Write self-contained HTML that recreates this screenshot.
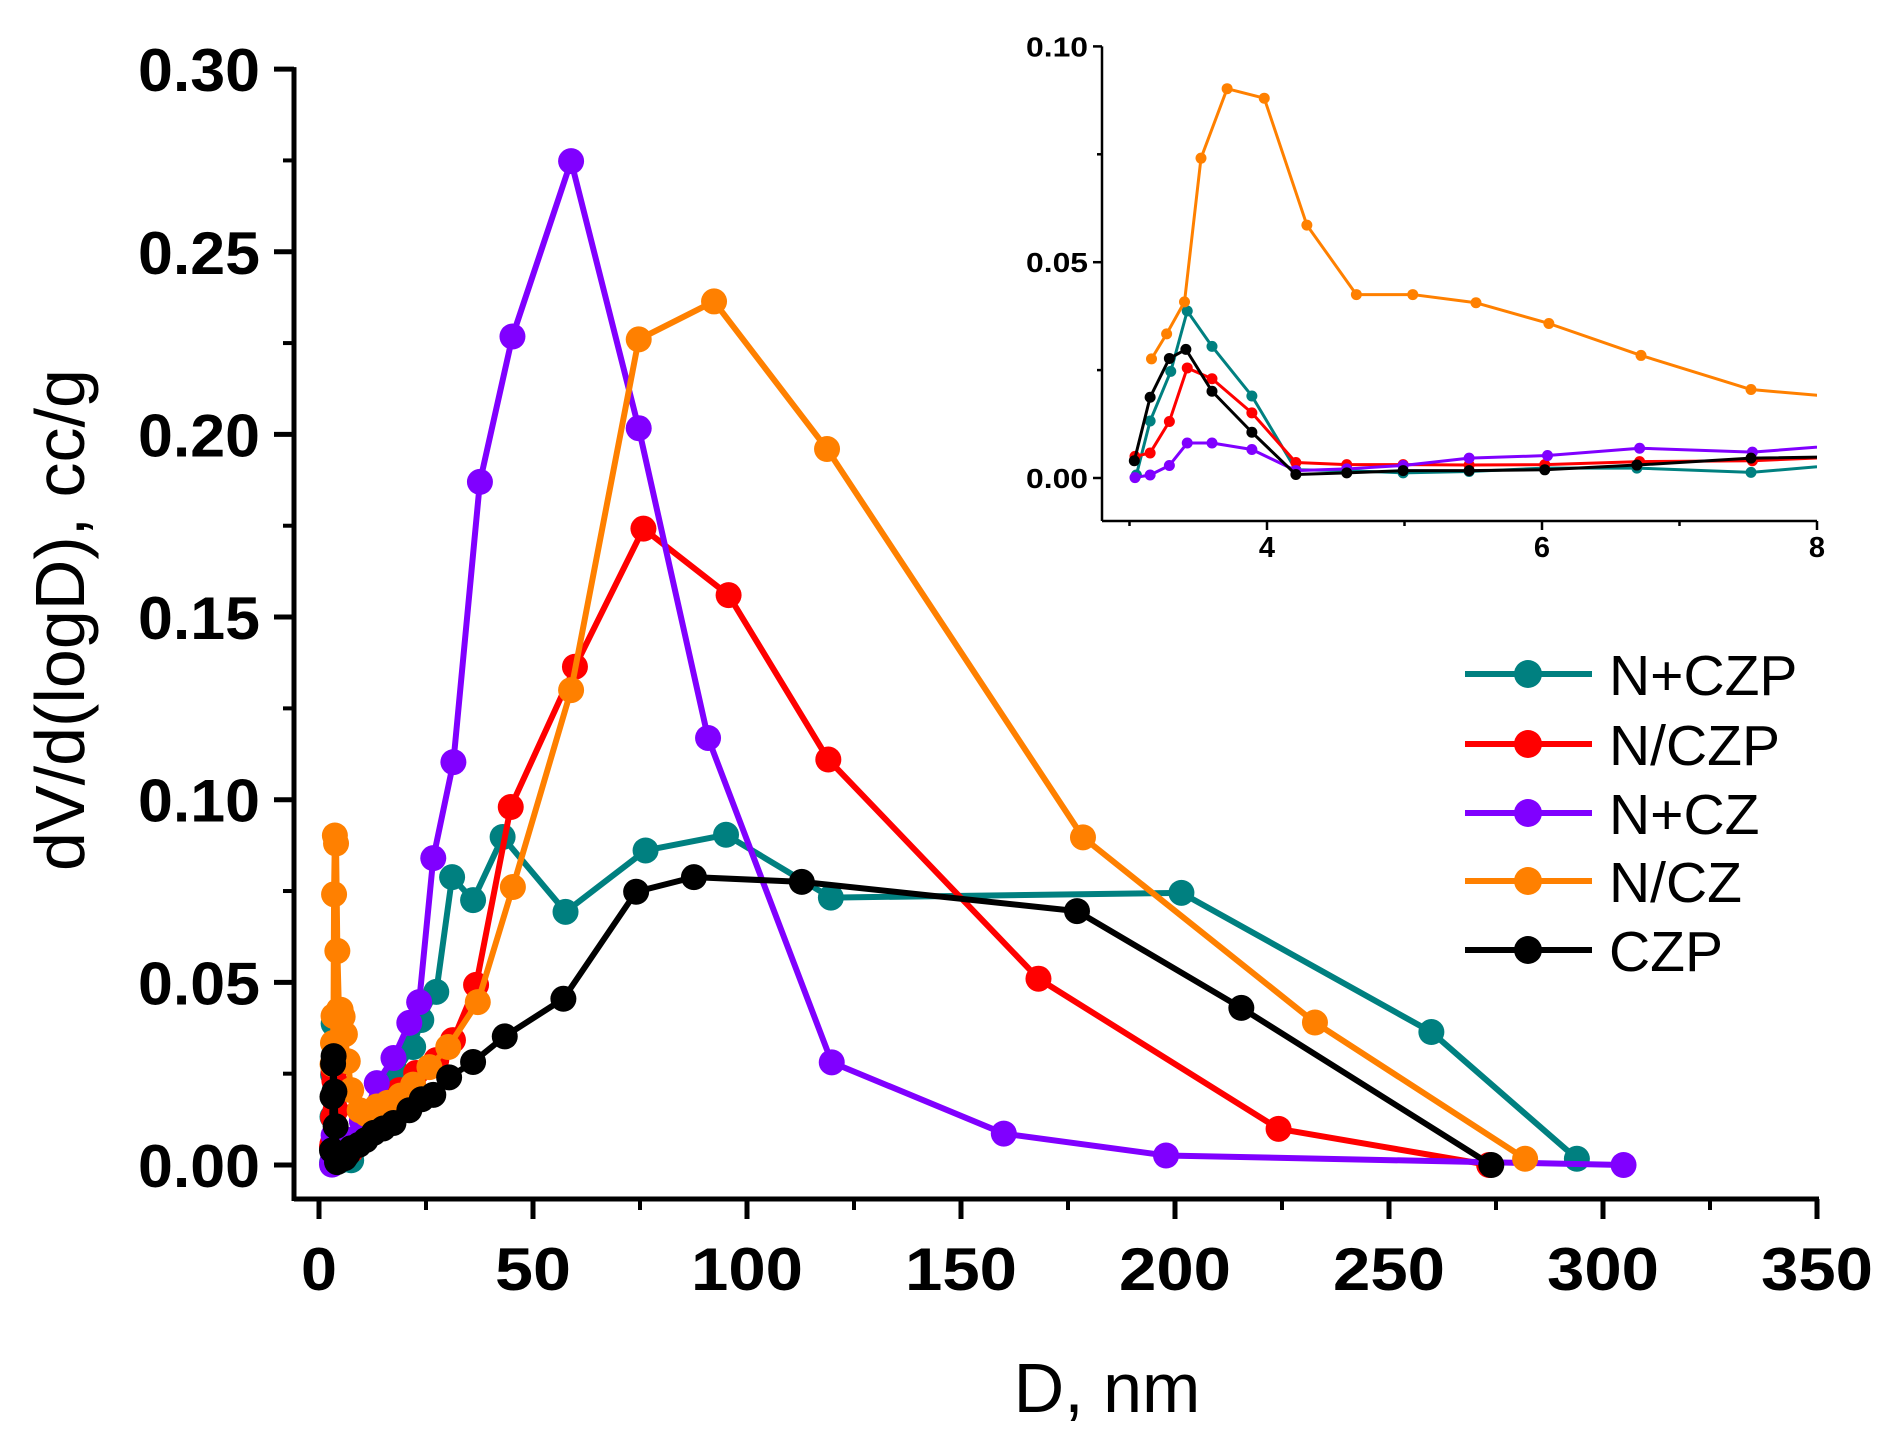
<!DOCTYPE html>
<html><head><meta charset="utf-8"><style>
html,body{margin:0;padding:0;background:#fff}
svg{display:block}
text{font-family:"Liberation Sans",sans-serif}
</style></head><body>
<svg id="chart" width="1887" height="1435" viewBox="0 0 1887 1435" xmlns="http://www.w3.org/2000/svg">
<g id="main"></g>
<g id="inset"></g>
<g id="legend"></g>
<text transform="translate(84,620) rotate(-90)" text-anchor="middle" font-size="70">dV/d(logD), cc/g</text>
<text x="1107" y="1412" text-anchor="middle" font-size="70">D, nm</text>
</svg>
<script>
const seriesNames = ["N+CZP","N/CZP","N+CZ","N/CZ","CZP"];
const seriesColors = ["#008080","#ff0000","#8000ff","#ff8000","#000000"];
const tealD = [3.05,3.15,3.30,3.42,3.60,3.89,4.21,4.58,4.99,5.47,6.02,6.69,7.52,10,13,15.5,18.1,22,23.9,27.4,31.1,36,42.9,57.6,76.3,95.1,119.6,201.5,259.9,293.9];
const tealV = [0.0007,0.0132,0.0247,0.0387,0.0305,0.019,0.0019,0.0017,0.0012,0.0015,0.0023,0.0023,0.0013,0.008,0.014,0.02,0.0252,0.0323,0.0397,0.0474,0.0788,0.0725,0.0898,0.0693,0.0861,0.0904,0.0732,0.0745,0.0364,0.0017];
const redD = [3.04,3.15,3.29,3.42,3.60,3.89,4.21,4.58,4.99,5.47,6.02,6.71,7.53,9,11,13,15.8,18.8,22.7,27.4,31.3,36.7,44.8,59.8,75.8,95.7,119,168.1,224.2,273.4];
const redV = [0.005,0.0058,0.0131,0.0255,0.023,0.0151,0.0036,0.0031,0.0031,0.003,0.0031,0.0038,0.004,0.006,0.009,0.013,0.0178,0.0205,0.0252,0.0287,0.0342,0.0493,0.098,0.1364,0.1742,0.156,0.111,0.051,0.0099,0];
const purpleD = [3.04,3.15,3.29,3.42,3.60,3.89,4.21,4.58,4.99,5.47,6.04,6.71,7.53,10,13.5,17.4,21.1,23.4,26.7,31.4,37.6,45.2,58.9,74.7,90.9,119.8,160,197.9,304.8];
const purpleV = [0.0001,0.0007,0.0029,0.0081,0.0081,0.0066,0.0017,0.0021,0.0029,0.0046,0.0052,0.0069,0.006,0.012,0.0224,0.0293,0.0389,0.0446,0.084,0.1103,0.187,0.2268,0.2748,0.2017,0.1169,0.0281,0.0086,0.0026,0];
const orangeD = [3.16,3.27,3.40,3.52,3.71,3.98,4.29,4.65,5.06,5.52,6.05,6.72,7.52,9.5,11,13.5,16,19,22,25.8,30.2,37.1,45.3,58.9,74.7,92.3,118.7,178.5,232.7,281.8];
const orangeV = [0.0276,0.0334,0.0408,0.0741,0.0902,0.088,0.0586,0.0425,0.0425,0.0406,0.0358,0.0284,0.0205,0.015,0.014,0.016,0.017,0.019,0.022,0.0268,0.0323,0.0446,0.0761,0.130,0.226,0.2364,0.196,0.0897,0.039,0.0017];
const blackD = [3.035,3.15,3.29,3.41,3.60,3.89,4.21,4.58,4.99,5.47,6.02,6.69,7.52,9.3,10.9,12.8,15,17.4,21.1,24,26.7,30.4,36,43.4,57.1,74.1,87.6,112.8,177.1,215.5,273.9];
const blackV = [0.004,0.0187,0.0277,0.0298,0.0201,0.0106,0.0008,0.0012,0.0017,0.0017,0.0019,0.003,0.0046,0.0055,0.0068,0.0088,0.01,0.0115,0.015,0.018,0.0192,0.024,0.0282,0.0352,0.0455,0.0748,0.0788,0.0775,0.0695,0.043,0];
const xTicks = [0,50,100,150,200,250,300,350];
const yTicks = [0,0.05,0.10,0.15,0.20,0.25,0.30];
const yTickLabels = ["0.00","0.05","0.10","0.15","0.20","0.25","0.30"];
const insetXTicks = [4,6,8];
const insetYTicks = [0,0.05,0.10];
const insetYTickLabels = ["0.00","0.05","0.10"];

const NS="http://www.w3.org/2000/svg";
function mk(tag,parent,attrs){const e=document.createElementNS(NS,tag);for(const k in attrs)e.setAttribute(k,attrs[k]);parent.appendChild(e);return e;}
const allD=[tealD,redD,purpleD,orangeD,blackD];
const allV=[tealV,redV,purpleV,orangeV,blackV];

const mx=d=>319+d*4.28;
const my=v=>1165-v*3653;
const main=document.getElementById('main');
const axisLeft=294, axisBottom=1199;
let l=mk('line',main,{x1:axisLeft,y1:axisBottom,x2:1819,y2:axisBottom,stroke:'#000','stroke-width':5});


l=mk('line',main,{x1:axisLeft,y1:axisBottom+2,x2:axisLeft,y2:my(0.30)-2,stroke:'#000','stroke-width':5});


for(let i=0;i<xTicks.length;i++){
  const x=mx(xTicks[i]);
  mk('line',main,{x1:x,y1:axisBottom,x2:x,y2:axisBottom+20,stroke:'#000','stroke-width':5});
  if(i<xTicks.length-1){const xm=mx(xTicks[i]+25);mk('line',main,{x1:xm,y1:axisBottom,x2:xm,y2:axisBottom+11,stroke:'#000','stroke-width':4});}
  const t=mk('text',main,{x:x,y:1290,'text-anchor':'middle','font-size':60,'font-weight':'bold',textLength:xTicks[i]>=100?112:(xTicks[i]>0?76:36),lengthAdjust:'spacingAndGlyphs'});
  t.textContent=String(xTicks[i]);
  
  
}
for(let i=0;i<yTicks.length;i++){
  const y=my(yTicks[i]);
  mk('line',main,{x1:axisLeft,y1:y,x2:axisLeft-20,y2:y,stroke:'#000','stroke-width':5});
  if(i<yTicks.length-1){const ym=my(yTicks[i]+0.025);mk('line',main,{x1:axisLeft,y1:ym,x2:axisLeft-11,y2:ym,stroke:'#000','stroke-width':4});}
  const t=mk('text',main,{x:260,y:y+22,'text-anchor':'end','font-size':60,'font-weight':'bold',textLength:122,lengthAdjust:'spacingAndGlyphs'});
  t.textContent=yTickLabels[i];
  
  
}
for(let s=0;s<5;s++){
  const g=mk('g',main,{});
  
  
  const pts=allD[s].map((d,i)=>mx(d)+','+my(allV[s][i])).join(' ');
  mk('polyline',g,{points:pts,fill:'none',stroke:seriesColors[s],'stroke-width':6,'stroke-linejoin':'round'});
  allD[s].forEach((d,i)=>{const c=mk('circle',g,{cx:mx(d),cy:my(allV[s][i]),r:13,fill:seriesColors[s]});
    
    });
}

const ix=d=>1267+(d-4)*137.5;
const iy=v=>478-v*4316;
const inset=document.getElementById('inset');
const iLeft=1102, iBottom=521;
mk('rect',inset,{x:iLeft-4,y:30,width:730,height:iBottom-28,fill:'#fff'});
l=mk('line',inset,{x1:iLeft,y1:iBottom,x2:1817,y2:iBottom,stroke:'#000','stroke-width':2.5});


l=mk('line',inset,{x1:iLeft,y1:iBottom,x2:iLeft,y2:iy(0.10),stroke:'#000','stroke-width':2.5});


for(let k=3;k<=8;k++){const x=ix(k);mk('line',inset,{x1:x,y1:iBottom,x2:x,y2:iBottom+(k%2==0?9:5),stroke:'#000','stroke-width':2.5});}
insetXTicks.forEach(v=>{const t=mk('text',inset,{x:ix(v),y:iBottom+36,'text-anchor':'middle','font-size':29,'font-weight':'bold'});t.textContent=String(v);
  
  });
for(let k=0;k<=4;k++){const y=iy(k*0.025);mk('line',inset,{x1:iLeft,y1:y,x2:iLeft-(k%2==0?9:5),y2:y,stroke:'#000','stroke-width':2.5});}
insetYTicks.forEach((v,i)=>{const t=mk('text',inset,{x:1088,y:iy(v)+10,'text-anchor':'end','font-size':28,'font-weight':'bold',textLength:62,lengthAdjust:'spacingAndGlyphs'});t.textContent=insetYTickLabels[i];
  
  });
mk('clipPath',inset,{id:'ic'}).appendChild(document.createElementNS(NS,'rect'));
const cr=inset.querySelector('#ic rect');cr.setAttribute('x',iLeft);cr.setAttribute('y',20);cr.setAttribute('width',1817-iLeft);cr.setAttribute('height',iBottom-20);
for(let s=0;s<5;s++){
  const g=mk('g',inset,{'clip-path':'url(#ic)'});
  
  
  const pts=allD[s].map((d,i)=>ix(d)+','+iy(allV[s][i])).join(' ');
  mk('polyline',g,{points:pts,fill:'none',stroke:seriesColors[s],'stroke-width':3,'stroke-linejoin':'round'});
  allD[s].forEach((d,i)=>{if(d<=8.2){const c=mk('circle',g,{cx:ix(d),cy:iy(allV[s][i]),r:5.5,fill:seriesColors[s]});
    
    }});
}

const legend=document.getElementById('legend');
const rows=[674,744,813,881,950];
for(let s=0;s<5;s++){
  const g=mk('g',legend,{});
  
  
  mk('line',g,{x1:1465,y1:rows[s],x2:1592,y2:rows[s],stroke:seriesColors[s],'stroke-width':6});
  mk('circle',g,{cx:1528,cy:rows[s],r:14,fill:seriesColors[s]});
  const t=mk('text',g,{x:1609,y:rows[s]+21,'font-size':57});t.textContent=seriesNames[s];
}
</script>
</body></html>
